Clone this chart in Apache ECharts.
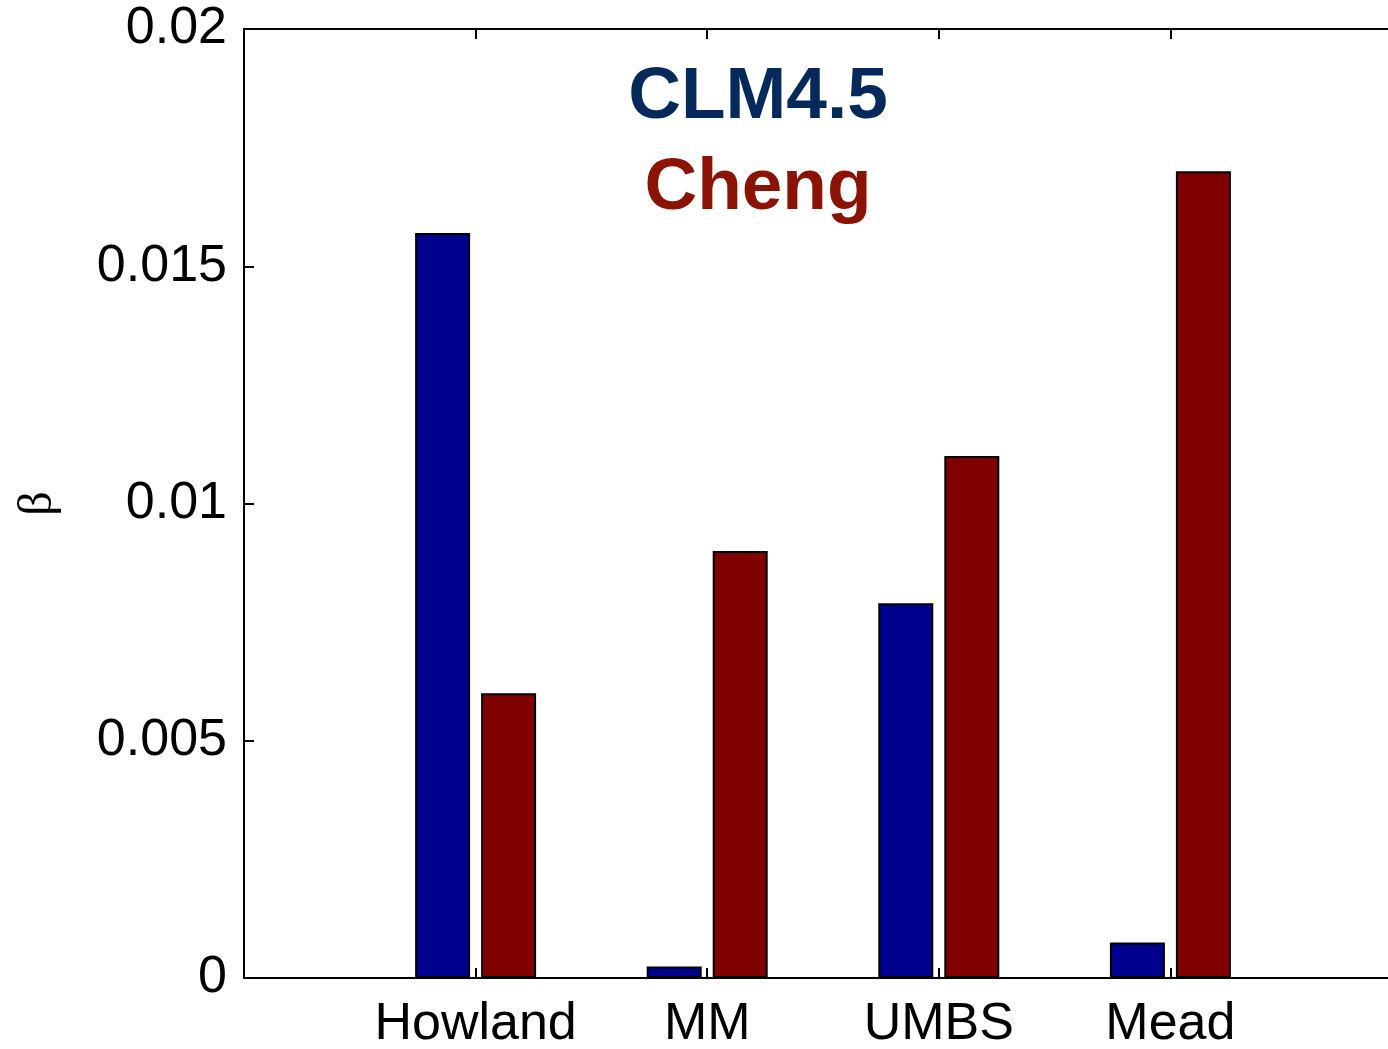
<!DOCTYPE html>
<html>
<head>
<meta charset="utf-8">
<script src="https://cdn.jsdelivr.net/npm/echarts@6/dist/echarts.min.js"></script>
<style>
  html, body { margin: 0; padding: 0; background: #ffffff; }
  #chart { width: 1388px; height: 1049px; }
</style>
</head>
<body>
<div id="chart"></div>
<script>
// ---- data ----
const categories = ['Howland', 'MM', 'UMBS', 'Mead'];
const clm45Values = [0.0157, 0.00024, 0.0079, 0.00075];
const chengValues = [0.0060, 0.0090, 0.0110, 0.0170];
const yTickValues = [0, 0.005, 0.01, 0.015, 0.02];
const seriesNames = ['CLM4.5', 'Cheng'];
const yAxisName = 'β';

// ---- build options ----
// MATLAB-style x limits [0, 5]: pad the category list with empty slots at both ends
const axisCats = [''].concat(categories, ['']);
const pad = arr => [null].concat(arr, [null]);
const isRealCat = idx => idx > 0 && idx <= categories.length;

const FONT = "'Liberation Sans', Arial, Helvetica, sans-serif";
const yMin = yTickValues[0];
const yMax = yTickValues[yTickValues.length - 1];
const yInterval = yTickValues[1] - yTickValues[0];

const chart = echarts.init(document.getElementById('chart'), null, { renderer: 'canvas' });

const option = {
  backgroundColor: '#ffffff',
  animation: false,
  title: [
    {
      text: seriesNames[0],
      left: 758, top: 61, padding: 0, textAlign: 'center',
      textStyle: { color: '#04295a', fontSize: 73, fontWeight: 'bold', fontFamily: FONT }
    },
    {
      text: seriesNames[1],
      left: 758, top: 152, padding: 0, textAlign: 'center',
      textStyle: { color: '#8a1306', fontSize: 73, fontWeight: 'bold', fontFamily: FONT }
    }
  ],
  grid: { left: 244, top: 29, bottom: 71, width: 1158, containLabel: false, outerBoundsMode: 'none' },
  xAxis: [
    {
      type: 'category',
      data: axisCats,
      boundaryGap: false,
      position: 'bottom',
      axisLine: { show: true, onZero: false, lineStyle: { color: '#000', width: 2 } },
      axisTick: {
        show: true, inside: true, length: 10,
        interval: (idx) => isRealCat(idx),
        lineStyle: { color: '#000', width: 2 }
      },
      axisLabel: {
        show: true, interval: 0, margin: 21,
        color: '#000', fontSize: 52, fontFamily: FONT
      },
      splitLine: { show: false }
    },
    {
      type: 'category',
      data: axisCats,
      boundaryGap: false,
      position: 'top',
      axisLine: { show: true, onZero: false, lineStyle: { color: '#000', width: 2 } },
      axisTick: {
        show: true, inside: true, length: 10,
        interval: (idx) => isRealCat(idx),
        lineStyle: { color: '#000', width: 2 }
      },
      axisLabel: { show: false },
      splitLine: { show: false }
    }
  ],
  yAxis: {
    type: 'value',
    min: yMin, max: yMax, interval: yInterval,
    name: yAxisName,
    nameLocation: 'middle',
    nameRotate: 90,
    nameGap: 182,
    nameTextStyle: { color: '#000', fontSize: 48, fontFamily: "'Liberation Serif', 'DejaVu Serif', serif" },
    axisLine: { show: true, lineStyle: { color: '#000', width: 2 } },
    axisTick: { show: true, inside: true, length: 10, lineStyle: { color: '#000', width: 2 } },
    axisLabel: { show: true, margin: 17, padding: [7, 0, 0, 0], color: '#000', fontSize: 52, fontFamily: FONT },
    splitLine: { show: false }
  },
  series: [
    {
      name: seriesNames[0],
      type: 'bar',
      xAxisIndex: 0,
      data: pad(clm45Values),
      barWidth: 55,
      barGap: '20%',
      itemStyle: { color: '#00008e', borderColor: '#000', borderWidth: 2 }
    },
    {
      name: seriesNames[1],
      type: 'bar',
      xAxisIndex: 0,
      data: pad(chengValues),
      barWidth: 55,
      barGap: '20%',
      itemStyle: { color: '#800000', borderColor: '#000', borderWidth: 2 }
    }
  ]
};

chart.setOption(option);
</script>
</body>
</html>
